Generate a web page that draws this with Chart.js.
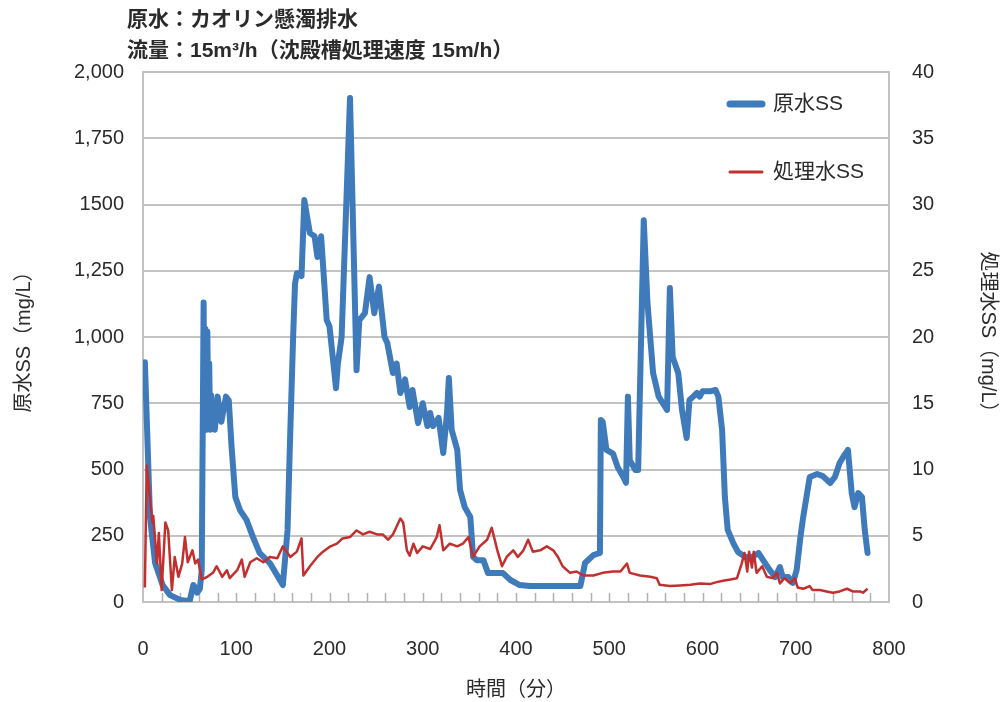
<!DOCTYPE html>
<html>
<head>
<meta charset="utf-8">
<script src="https://cdn.jsdelivr.net/npm/chart.js@4"></script>
<style>
  body { margin: 0; background: #fff; }
  #wrap { position: relative; width: 1002px; height: 702px; }
</style>
</head>
<body>
<div id="wrap"><canvas id="chart"></canvas></div>
<script>
// 原水SS / 処理水SS time series (kaolin suspension test)
const rawTime = [2, 7.5, 13, 21, 29, 40, 50, 54, 56, 58, 61, 63, 65, 66, 67, 68, 69, 70, 71, 72, 73, 75, 77, 80, 84, 89, 92, 95, 99, 104, 111, 118, 125, 136, 145, 150,
  155, 158, 161, 163, 165, 168, 170, 173, 176, 179, 184, 187, 191, 197, 200, 207, 209, 213, 222, 229, 232, 238, 243, 248, 253, 259, 262, 268, 272, 276, 281, 286, 289,
  295, 300, 305, 308, 311, 317, 322, 326, 328, 331, 337, 340, 345, 351, 354, 358, 365, 370, 380, 386, 394, 404, 415, 433, 447, 460, 469, 474, 483, 490, 491, 493, 497,
  504, 509, 515, 518, 520, 522, 528, 531, 537, 541, 547, 553, 562, 565, 568, 574, 578, 583, 586, 590, 594, 597, 600, 608, 614, 617, 621, 624, 627, 633, 638, 646, 653,
  660, 665, 672, 678, 683, 686, 692, 697, 701, 705, 708, 715, 723, 729, 737, 742, 747, 751, 756, 760, 763, 767, 771, 774, 777];
const rawSS = [905, 320, 147, 64, 26, 8, 3, 64, 55, 35, 50, 120, 1130, 660, 1030, 650, 1020, 700, 900, 650, 780, 680, 650, 775, 680, 775, 760, 585, 396, 347, 310, 245, 185, 147, 94, 64,
  272, 650, 1000, 1200, 1241, 1241, 1230, 1517, 1453, 1392, 1380, 1302, 1380, 1064, 1040, 807, 900, 1000, 1902, 875, 1064, 1090, 1226, 1090, 1190, 1000, 977, 864, 900, 789, 840, 736, 800,
  675, 750, 664, 713, 664, 695, 562, 713, 845, 650, 574, 423, 358, 321, 170, 158, 158, 109, 109, 109, 83, 64, 60, 60, 60, 60, 60, 147, 177, 185, 687, 680, 574,
  560, 509, 472, 450, 775, 535, 498, 498, 1441, 1128, 864, 775, 725, 1185, 925, 864, 725, 619, 762, 775, 789, 775, 795, 795, 800, 775, 650, 396, 272, 222, 189, 170, 170,
  185, 158, 121, 94, 132, 94, 94, 72, 121, 245, 321, 472, 483, 475, 449, 472, 524, 548, 574, 411, 358, 411, 396, 272, 185];

const treatedTime = [2, 4, 7.5, 10, 11, 15, 17, 20, 24, 27, 31, 34, 38, 42, 45, 48, 53, 56, 59, 63, 69, 75, 79, 85, 90, 93, 101, 106, 109, 115, 122, 129, 136, 144, 150,
  158, 165, 170, 172, 179, 187, 193, 201, 208, 214, 222, 229, 236, 243, 251, 257, 263, 268, 276, 279, 283, 286, 290, 294, 300, 308, 315, 318, 322, 329, 337, 343, 349,
  354, 361, 369, 374, 380, 385, 390, 397, 402, 408, 413, 418, 426, 433, 440, 445, 450, 458, 465, 472, 483, 493, 504, 512, 519, 522, 533, 544, 551, 554, 565, 576, 587,
  597, 608, 615, 622, 630, 637, 642, 645, 648, 650, 653, 655, 658, 664, 669, 675, 680, 683, 688, 694, 699, 702, 708, 715, 718, 726, 733, 740, 747, 755, 761, 769, 772, 777];
const treatedSS = [1.1, 10.3, 7.9, 6.0, 6.5, 2.9, 5.2, 0.9, 6.0, 5.4, 0.9, 3.4, 1.9, 2.9, 4.9, 3.0, 3.9, 2.9, 3.2, 1.7, 1.9, 2.2, 2.7, 1.9, 2.4, 1.8, 2.4, 3.2, 1.9, 3.0, 3.3, 3.0, 3.4, 3.3, 4.2,
  3.4, 3.8, 4.8, 2.0, 2.7, 3.4, 3.8, 4.2, 4.4, 4.8, 4.9, 5.4, 5.1, 5.3, 5.1, 5.1, 4.7, 5.1, 6.3, 6.0, 3.9, 3.5, 4.4, 3.7, 4.2, 4.0, 4.9, 5.8, 3.9, 4.4, 4.2, 4.4, 4.9,
  3.4, 4.2, 4.7, 5.6, 3.9, 2.7, 3.4, 3.9, 3.4, 3.9, 4.7, 3.8, 3.9, 4.2, 3.9, 3.4, 2.7, 2.2, 2.3, 2.0, 2.0, 2.2, 2.3, 2.3, 2.9, 2.2, 2.0, 1.9, 1.8, 1.3, 1.2, 1.25, 1.3,
  1.4, 1.35, 1.5, 1.6, 1.7, 1.8, 2.9, 3.7, 2.3, 3.8, 2.6, 3.8, 2.2, 2.7, 1.9, 1.8, 2.2, 1.4, 1.8, 1.4, 1.8, 1.1, 1.0, 1.2, 0.9, 0.9, 0.8, 0.7, 0.8, 1.0, 0.8, 0.8, 0.7, 1.0];

const leftTickLabels = ['0', '250', '500', '750', '1,000', '1,250', '1500', '1,750', '2,000'];
const titleLines = ['原水：カオリン懸濁排水', '流量：15m³/h（沈殿槽処理速度 15m/h）'];
const seriesNames = ['原水SS', '処理水SS'];

const FONT = "'Liberation Sans', 'Noto Sans CJK JP', sans-serif";
const BLUE = '#3f7bbb';
const RED = '#c1302f';
const GRID = '#c3c3c3';
const TEXT = '#2b2b2b';

function toPoints(xs, ys) {
    return xs.map(function (x, i) { return { x: x, y: ys[i] }; });
}

// title text, inner legend and the small x tick marks
const decorPlugin = {
    id: 'decor',
    beforeDatasetsDraw: function (chart) {
        const ctx = chart.ctx;
        const x = chart.scales.x;
        const area = chart.chartArea;
        ctx.save();
        ctx.strokeStyle = '#b0b0b0';
        ctx.lineWidth = 1.5;
        for (let t = 20; t <= 780; t += 20) {
            const px = Math.round(x.getPixelForValue(t)) + 0.5;
            ctx.beginPath();
            ctx.moveTo(px, area.bottom);
            ctx.lineTo(px, area.bottom - 9);
            ctx.stroke();
        }
        ctx.restore();
    },
    afterDraw: function (chart) {
        const ctx = chart.ctx;
        const area = chart.chartArea;
        ctx.save();
        ctx.fillStyle = TEXT;
        ctx.textBaseline = 'middle';
        ctx.textAlign = 'left';
        ctx.font = "bold 21px 'Liberation Sans', 'Noto Sans CJK JP', sans-serif";
        ctx.fillText(titleLines[0], area.left - 16, 20);
        ctx.fillText(titleLines[1], area.left - 16, 51);

        // legend
        const colors = [BLUE, RED];
        const widths = [7, 3];
        const ys = [area.top + 32, area.top + 100];
        ctx.font = '21px ' + FONT;
        ctx.lineCap = 'round';
        for (let i = 0; i < 2; i++) {
            ctx.strokeStyle = colors[i];
            ctx.lineWidth = widths[i];
            ctx.beginPath();
            ctx.moveTo(area.right - 159, ys[i]);
            ctx.lineTo(area.right - 127, ys[i]);
            ctx.stroke();
            ctx.fillText(seriesNames[i], area.right - 116, ys[i]);
        }
        ctx.restore();
    }
};

new Chart(document.getElementById('chart'), {
    type: 'line',
    data: {
        datasets: [
            {
                label: seriesNames[0],
                data: toPoints(rawTime, rawSS),
                yAxisID: 'y',
                borderColor: BLUE,
                borderWidth: 6,
                borderJoinStyle: 'round',
                borderCapStyle: 'round',
                pointRadius: 0,
                tension: 0,
                order: 1
            },
            {
                label: seriesNames[1],
                data: toPoints(treatedTime, treatedSS),
                yAxisID: 'y2',
                borderColor: RED,
                borderWidth: 2.5,
                borderJoinStyle: 'round',
                pointRadius: 0,
                tension: 0,
                order: 0
            }
        ]
    },
    options: {
        responsive: true,
        maintainAspectRatio: false,
        animation: false,
        layout: { padding: { top: 72, left: 0, right: 0, bottom: 0 } },
        plugins: {
            legend: { display: false },
            title: { display: false },
            tooltip: { enabled: false }
        },
        scales: {
            x: {
                type: 'linear',
                min: 0,
                max: 800,
                afterFit: function (s) { s.height = 100; },
                ticks: {
                    stepSize: 100,
                    padding: 27,
                    color: TEXT,
                    font: { family: FONT, size: 20 }
                },
                grid: { display: false },
                border: { display: true, color: GRID, width: 2 },
                title: {
                    display: true,
                    text: '時間（分）',
                    color: TEXT,
                    padding: { top: 0, bottom: 0 },
                    font: { family: FONT, size: 20 }
                }
            },
            y: {
                position: 'left',
                min: 0,
                max: 2000,
                afterFit: function (s) { s.width = 143; },
                ticks: {
                    stepSize: 250,
                    padding: 19,
                    color: TEXT,
                    font: { family: FONT, size: 20 },
                    callback: function (v, i) { return leftTickLabels[i]; }
                },
                grid: { color: GRID, lineWidth: 2, drawTicks: false },
                border: { display: true, color: GRID, width: 2 },
                title: {
                    display: true,
                    text: '原水SS（mg/L）',
                    color: TEXT,
                    padding: { top: 12, bottom: 0 },
                    font: { family: FONT, size: 20 }
                }
            },
            y2: {
                position: 'right',
                min: 0,
                max: 40,
                afterFit: function (s) { s.width = 113; },
                ticks: {
                    stepSize: 5,
                    padding: 23,
                    color: TEXT,
                    font: { family: FONT, size: 20 }
                },
                grid: { display: false, drawTicks: false },
                border: { display: true, color: GRID, width: 2 },
                title: {
                    display: true,
                    text: '処理水SS（mg/L）',
                    color: TEXT,
                    padding: { top: 2, bottom: 0 },
                    font: { family: FONT, size: 20 }
                }
            }
        }
    },
    plugins: [decorPlugin]
});
</script>
</body>
</html>
